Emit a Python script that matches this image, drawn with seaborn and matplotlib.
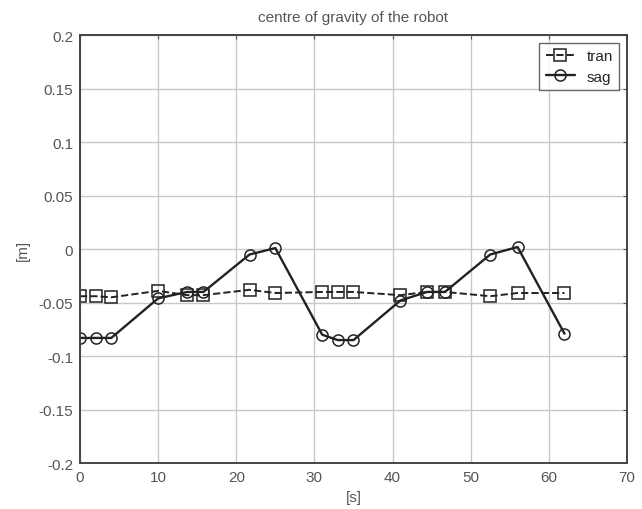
import matplotlib
matplotlib.use("Agg")
import matplotlib.pyplot as plt
import pandas as pd
import seaborn as sb

# data
time_s = [0, 2, 4, 10, 13.7, 15.8, 21.7, 25, 31, 33, 35, 41, 44.4, 46.7, 52.5, 56, 62]
tran = [-0.044, -0.044, -0.045, -0.039, -0.043, -0.043, -0.038, -0.041, -0.040,
        -0.040, -0.040, -0.043, -0.040, -0.040, -0.044, -0.041, -0.041]
sag = [-0.083, -0.083, -0.083, -0.046, -0.040, -0.040, -0.005, 0.001, -0.080,
       -0.085, -0.085, -0.048, -0.040, -0.040, -0.005, 0.002, -0.079]

df = pd.DataFrame({'t': time_s, 'tran': tran, 'sag': sag})

sb.set_style('whitegrid')
plt.rcParams['font.family'] = ['Liberation Sans', 'DejaVu Sans']
plt.rcParams.update({'font.size': 11, 'xtick.direction': 'in', 'ytick.direction': 'in'})

txt = '#555555'
fig = plt.figure(figsize=(6.42, 5.10), dpi=100)
ax = fig.add_axes([0.1246, 0.090, 0.852, 0.839])

sb.lineplot(data=df, x='t', y='tran', ax=ax, color='#222222', linestyle='--', linewidth=1.4,
            marker='s', markersize=8, markerfacecolor='none', markeredgecolor='#222222',
            markeredgewidth=1.1, label='tran')
sb.lineplot(data=df, x='t', y='sag', ax=ax, color='#222222', linestyle='-', linewidth=1.7,
            marker='o', markersize=8, markerfacecolor='none', markeredgecolor='#222222',
            markeredgewidth=1.1, label='sag')

ax.set_xlim(0, 70)
ax.set_ylim(-0.2, 0.2)
ax.set_xticks(range(0, 71, 10))
ax.set_yticks([-0.2, -0.15, -0.1, -0.05, 0, 0.05, 0.1, 0.15, 0.2])
ax.set_yticklabels(['-0.2', '-0.15', '-0.1', '-0.05', '0', '0.05', '0.1', '0.15', '0.2'])
ax.grid(True, color='#c8c8c8', linewidth=1.0)
for s in ax.spines.values():
    s.set_visible(True)
    s.set_color('#444444')
    s.set_linewidth(1.4)
ax.tick_params(colors='#555555', labelcolor=txt, labelsize=11, length=3, top=True, right=True, pad=5)

ax.set_title('centre of gravity of the robot', fontsize=11, color=txt, pad=10)
ax.set_xlabel('[s]', fontsize=11, color=txt, labelpad=4)
ax.set_ylabel('[m]', fontsize=11, color=txt, labelpad=6)

leg = ax.legend(loc='upper right', fontsize=11, frameon=True, fancybox=False,
                handlelength=1.9, borderpad=0.4, labelspacing=0.45, handletextpad=0.8,
                markerscale=1.0, borderaxespad=0.5)
leg.get_frame().set_edgecolor('#444444')
leg.get_frame().set_linewidth(1.0)

fig.savefig('out.png', dpi=100)
